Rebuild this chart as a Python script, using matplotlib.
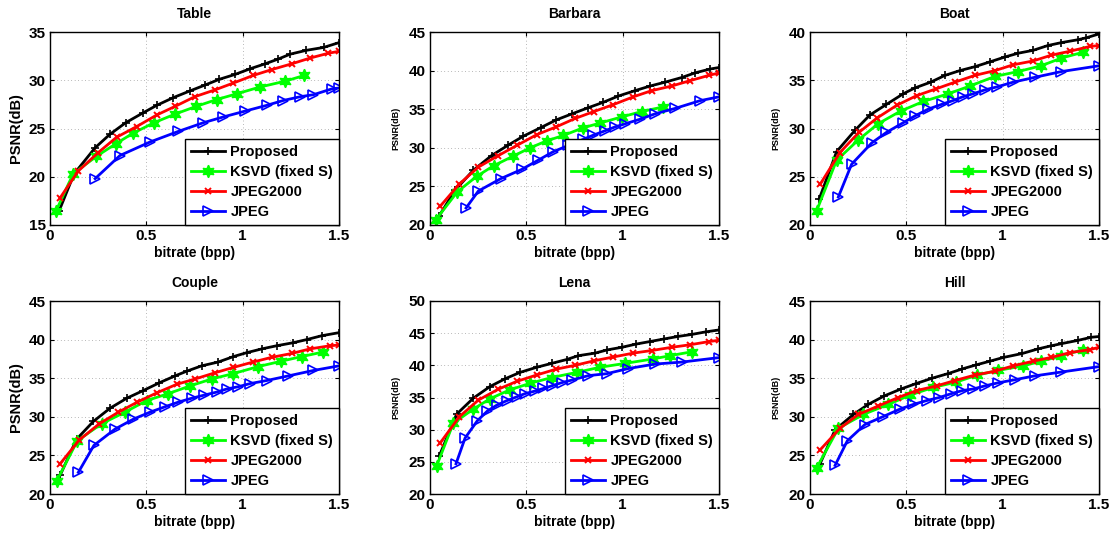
import matplotlib

matplotlib.use("Agg")

import matplotlib.pyplot as plt

plt.rcParams["font.family"] = ["Liberation Sans", "DejaVu Sans"]
plt.rcParams["font.weight"] = "bold"

# ---- data (bitrate bpp, PSNR dB) ----
table_prop_x = [0.048, 0.125, 0.234, 0.311, 0.393, 0.481, 0.554, 0.64, 0.727, 0.804, 0.879, 0.96, 1.04, 1.116, 1.185, 1.246, 1.33, 1.42, 1.5]
table_prop_y = [16.5, 20.3, 23.0, 24.4, 25.6, 26.6, 27.4, 28.2, 28.9, 29.5, 30.1, 30.6, 31.2, 31.7, 32.2, 32.7, 33.1, 33.4, 33.9]
table_ksvd_x = [0.03, 0.12, 0.24, 0.34, 0.43, 0.54, 0.65, 0.76, 0.865, 0.97, 1.09, 1.22, 1.32]
table_ksvd_y = [16.4, 20.3, 22.1, 23.4, 24.5, 25.6, 26.5, 27.3, 28.0, 28.6, 29.3, 29.9, 30.5]
table_j2k_x = [0.052, 0.147, 0.25, 0.346, 0.45, 0.554, 0.65, 0.752, 0.856, 0.95, 1.055, 1.15, 1.254, 1.35, 1.445, 1.5]
table_j2k_y = [17.8, 20.6, 22.5, 24.1, 25.2, 26.4, 27.3, 28.3, 29.0, 29.7, 30.5, 31.1, 31.7, 32.3, 32.8, 33.0]
table_jpeg_x = [0.234, 0.363, 0.519, 0.666, 0.796, 0.9, 1.012, 1.125, 1.21, 1.3, 1.367, 1.462, 1.5]
table_jpeg_y = [19.8, 22.2, 23.6, 24.7, 25.6, 26.2, 26.8, 27.4, 27.9, 28.3, 28.5, 29.1, 29.2]

barbara_prop_x = [0.048, 0.13, 0.225, 0.32, 0.403, 0.484, 0.574, 0.654, 0.737, 0.822, 0.9, 0.977, 1.064, 1.142, 1.22, 1.306, 1.375, 1.453, 1.5]
barbara_prop_y = [21.2, 24.5, 27.1, 29.0, 30.3, 31.5, 32.6, 33.6, 34.4, 35.2, 35.9, 36.7, 37.4, 38.0, 38.5, 39.1, 39.7, 40.2, 40.4]
barbara_ksvd_x = [0.031, 0.142, 0.242, 0.332, 0.43, 0.52, 0.606, 0.692, 0.796, 0.882, 0.995, 1.099, 1.211]
barbara_ksvd_y = [20.7, 24.3, 26.3, 27.7, 28.9, 30.0, 30.9, 31.6, 32.6, 33.2, 34.0, 34.7, 35.3]
barbara_j2k_x = [0.052, 0.152, 0.251, 0.355, 0.45, 0.554, 0.654, 0.753, 0.851, 0.952, 1.055, 1.15, 1.254, 1.35, 1.45, 1.5]
barbara_j2k_y = [22.4, 25.3, 27.5, 29.0, 30.3, 31.7, 32.7, 33.8, 34.7, 35.6, 36.6, 37.4, 38.0, 38.7, 39.4, 39.7]
barbara_jpeg_x = [0.187, 0.251, 0.367, 0.476, 0.562, 0.64, 0.718, 0.796, 0.844, 0.908, 0.96, 1.012, 1.09, 1.168, 1.272, 1.401, 1.5]
barbara_jpeg_y = [22.2, 24.4, 26.0, 27.2, 28.4, 29.5, 30.3, 31.1, 31.6, 32.2, 32.7, 33.1, 33.7, 34.4, 35.1, 36.1, 36.6]

boat_prop_x = [0.048, 0.138, 0.233, 0.311, 0.397, 0.484, 0.544, 0.626, 0.7, 0.778, 0.855, 0.933, 1.01, 1.08, 1.158, 1.235, 1.305, 1.391, 1.434, 1.5]
boat_prop_y = [22.7, 27.6, 29.8, 31.4, 32.5, 33.6, 34.2, 34.8, 35.5, 36.0, 36.4, 36.9, 37.4, 37.8, 38.1, 38.6, 38.9, 39.2, 39.4, 39.8]
boat_ksvd_x = [0.035, 0.138, 0.25, 0.354, 0.47, 0.588, 0.718, 0.83, 0.96, 1.08, 1.2, 1.305, 1.417]
boat_ksvd_y = [21.5, 26.7, 28.8, 30.5, 31.8, 32.8, 33.6, 34.4, 35.4, 35.9, 36.5, 37.3, 37.9]
boat_j2k_x = [0.052, 0.155, 0.254, 0.349, 0.45, 0.553, 0.653, 0.752, 0.855, 0.96, 1.054, 1.158, 1.253, 1.348, 1.452, 1.5]
boat_j2k_y = [24.2, 27.5, 29.6, 31.1, 32.4, 33.4, 34.1, 34.8, 35.5, 36.0, 36.6, 37.0, 37.6, 38.0, 38.5, 38.6]
boat_jpeg_x = [0.147, 0.216, 0.32, 0.397, 0.484, 0.544, 0.613, 0.683, 0.743, 0.795, 0.847, 0.907, 0.968, 1.054, 1.166, 1.305, 1.5]
boat_jpeg_y = [22.9, 26.3, 28.5, 29.6, 30.6, 31.3, 32.0, 32.5, 32.9, 33.3, 33.6, 34.0, 34.3, 34.8, 35.3, 35.9, 36.5]

couple_prop_x = [0.052, 0.138, 0.225, 0.311, 0.398, 0.484, 0.567, 0.649, 0.709, 0.787, 0.874, 0.952, 1.02, 1.1, 1.176, 1.263, 1.332, 1.41, 1.5]
couple_prop_y = [22.4, 27.1, 29.4, 31.1, 32.4, 33.4, 34.4, 35.3, 35.9, 36.6, 37.1, 37.8, 38.3, 38.8, 39.2, 39.6, 40.0, 40.5, 40.9]
couple_ksvd_x = [0.035, 0.142, 0.268, 0.389, 0.502, 0.614, 0.727, 0.839, 0.952, 1.08, 1.2, 1.306, 1.419]
couple_ksvd_y = [21.7, 26.9, 29.1, 30.6, 32.1, 33.0, 34.0, 34.9, 35.6, 36.5, 37.2, 37.8, 38.4]
couple_j2k_x = [0.052, 0.152, 0.256, 0.355, 0.453, 0.554, 0.657, 0.753, 0.856, 0.952, 1.055, 1.15, 1.254, 1.35, 1.453, 1.5]
couple_j2k_y = [23.9, 27.0, 29.1, 30.6, 31.9, 33.1, 34.2, 34.9, 35.7, 36.4, 37.1, 37.7, 38.2, 38.8, 39.2, 39.3]
couple_jpeg_x = [0.147, 0.228, 0.337, 0.433, 0.519, 0.597, 0.666, 0.735, 0.799, 0.865, 0.917, 0.978, 1.038, 1.125, 1.237, 1.367, 1.5]
couple_jpeg_y = [22.8, 26.3, 28.4, 29.7, 30.6, 31.3, 31.9, 32.4, 32.8, 33.2, 33.6, 33.9, 34.3, 34.7, 35.3, 36.0, 36.6]

lena_prop_x = [0.048, 0.138, 0.225, 0.311, 0.389, 0.467, 0.554, 0.631, 0.709, 0.77, 0.857, 0.92, 0.995, 1.069, 1.142, 1.215, 1.289, 1.358, 1.431, 1.5]
lena_prop_y = [25.9, 32.4, 34.9, 36.7, 37.9, 38.9, 39.7, 40.3, 40.9, 41.5, 41.9, 42.4, 42.8, 43.3, 43.7, 44.1, 44.5, 44.8, 45.2, 45.5]
lena_ksvd_x = [0.035, 0.121, 0.225, 0.311, 0.415, 0.519, 0.631, 0.761, 0.882, 1.012, 1.159, 1.246, 1.358]
lena_ksvd_y = [24.4, 31.0, 33.2, 34.8, 36.2, 37.2, 38.1, 38.9, 39.7, 40.3, 41.0, 41.5, 42.1]
lena_j2k_x = [0.052, 0.152, 0.251, 0.355, 0.45, 0.554, 0.654, 0.753, 0.851, 0.952, 1.055, 1.15, 1.254, 1.35, 1.45, 1.5]
lena_j2k_y = [27.9, 32.0, 34.6, 36.3, 37.5, 38.5, 39.4, 40.0, 40.7, 41.3, 41.9, 42.3, 42.8, 43.2, 43.7, 43.9]
lena_jpeg_x = [0.135, 0.182, 0.246, 0.298, 0.346, 0.398, 0.45, 0.493, 0.545, 0.588, 0.631, 0.683, 0.735, 0.822, 0.917, 1.029, 1.168, 1.306, 1.5]
lena_jpeg_y = [24.7, 28.7, 31.4, 32.9, 33.8, 34.5, 35.1, 35.6, 36.0, 36.4, 36.8, 37.3, 37.7, 38.4, 38.7, 39.5, 40.2, 40.5, 41.2]

hill_prop_x = [0.052, 0.13, 0.225, 0.302, 0.385, 0.472, 0.55, 0.634, 0.717, 0.79, 0.859, 0.933, 1.006, 1.102, 1.184, 1.253, 1.31, 1.391, 1.46, 1.5]
hill_prop_y = [23.9, 28.3, 30.3, 31.6, 32.7, 33.6, 34.3, 35.0, 35.6, 36.2, 36.7, 37.2, 37.7, 38.2, 38.8, 39.2, 39.5, 39.9, 40.3, 40.4]
hill_ksvd_x = [0.035, 0.147, 0.276, 0.406, 0.518, 0.639, 0.76, 0.867, 0.976, 1.106, 1.2, 1.305, 1.417]
hill_ksvd_y = [23.4, 28.5, 30.3, 31.6, 32.8, 33.8, 34.5, 35.4, 36.0, 36.6, 37.2, 37.9, 38.7]
hill_j2k_x = [0.052, 0.155, 0.251, 0.354, 0.458, 0.553, 0.657, 0.752, 0.855, 0.959, 1.054, 1.158, 1.253, 1.348, 1.452, 1.5]
hill_j2k_y = [25.7, 28.5, 30.3, 31.4, 32.5, 33.4, 34.0, 34.7, 35.4, 35.9, 36.6, 37.2, 37.7, 38.3, 38.7, 39.0]
hill_jpeg_x = [0.13, 0.194, 0.285, 0.377, 0.467, 0.536, 0.605, 0.671, 0.734, 0.791, 0.847, 0.907, 0.976, 1.063, 1.166, 1.305, 1.5]
hill_jpeg_y = [23.7, 26.9, 29.0, 30.0, 31.0, 31.6, 32.1, 32.5, 33.0, 33.4, 33.6, 34.0, 34.4, 34.8, 35.3, 35.8, 36.5]

titles = ["Table", "Barbara", "Boat", "Couple", "Lena", "Hill"]
ylims = [(15, 35), (20, 45), (20, 40), (20, 45), (20, 50), (20, 45)]
big_ylabel = [True, False, False, True, False, False]
series_names = ["Proposed", "KSVD (fixed S)", "JPEG2000", "JPEG"]

panels = [
    [(table_prop_x, table_prop_y), (table_ksvd_x, table_ksvd_y), (table_j2k_x, table_j2k_y), (table_jpeg_x, table_jpeg_y)],
    [(barbara_prop_x, barbara_prop_y), (barbara_ksvd_x, barbara_ksvd_y), (barbara_j2k_x, barbara_j2k_y), (barbara_jpeg_x, barbara_jpeg_y)],
    [(boat_prop_x, boat_prop_y), (boat_ksvd_x, boat_ksvd_y), (boat_j2k_x, boat_j2k_y), (boat_jpeg_x, boat_jpeg_y)],
    [(couple_prop_x, couple_prop_y), (couple_ksvd_x, couple_ksvd_y), (couple_j2k_x, couple_j2k_y), (couple_jpeg_x, couple_jpeg_y)],
    [(lena_prop_x, lena_prop_y), (lena_ksvd_x, lena_ksvd_y), (lena_j2k_x, lena_j2k_y), (lena_jpeg_x, lena_jpeg_y)],
    [(hill_prop_x, hill_prop_y), (hill_ksvd_x, hill_ksvd_y), (hill_j2k_x, hill_j2k_y), (hill_jpeg_x, hill_jpeg_y)],
]

# MATLAB-ish markers: plus, hexagram, x, right triangle
styles = [
    dict(color="black", marker="+", markersize=6, markeredgewidth=1.2),
    dict(color="#00ff00", marker=(6, 1, 0), markersize=9, markeredgewidth=1.0),
    dict(color="red", marker="x", markersize=5, markeredgewidth=1.4),
    dict(color="blue", marker=">", markersize=7.5, markerfacecolor="none", markeredgewidth=1.2),
]

fig = plt.figure(figsize=(11.12, 5.36), dpi=100)
W, H = 1112.0, 536.0
lefts = [50, 430, 810]
tops = [32, 301]
aw, ah = 289, 193

for i, title in enumerate(titles):
    r, c = divmod(i, 3)
    ax = fig.add_axes([lefts[c] / W, 1 - (tops[r] + ah) / H, aw / W, ah / H])
    for (xs, ys), name, st in zip(panels[i], series_names, styles):
        ax.plot(xs, ys, linewidth=2.0, label=name, **st)
    ax.set_xlim(0, 1.5)
    ax.set_ylim(*ylims[i])
    ax.set_xticks([0, 0.5, 1, 1.5])
    ax.set_xticklabels(["0", "0.5", "1", "1.5"])
    ax.set_yticks(range(ylims[i][0], ylims[i][1] + 1, 5))
    ax.tick_params(direction="in", length=3, top=True, right=True, labelsize=11, pad=3)
    ax.grid(True, linestyle=(0, (1, 4)), color="#777777", linewidth=0.5)
    for sp in ax.spines.values():
        sp.set_linewidth(1.0)
    ax.set_title(title, fontsize=10, fontweight="bold", pad=10)
    ax.set_xlabel("bitrate (bpp)", fontsize=10, fontweight="bold", labelpad=2)
    if big_ylabel[i]:
        ax.set_ylabel("PSNR(dB)", fontsize=10.5, fontweight="bold", labelpad=4)
    else:
        ax.set_ylabel("PSNR(dB)", fontsize=6.5, fontweight="bold", labelpad=6)
    leg = ax.legend(loc="lower right", borderaxespad=0, fancybox=False, framealpha=1,
                    edgecolor="black", handlelength=2.3, handletextpad=0.4,
                    labelspacing=0.42, borderpad=0.4, prop={"weight": "bold", "size": 10.5})
    leg.get_frame().set_linewidth(1.0)

fig.savefig("out.png", dpi=100)
